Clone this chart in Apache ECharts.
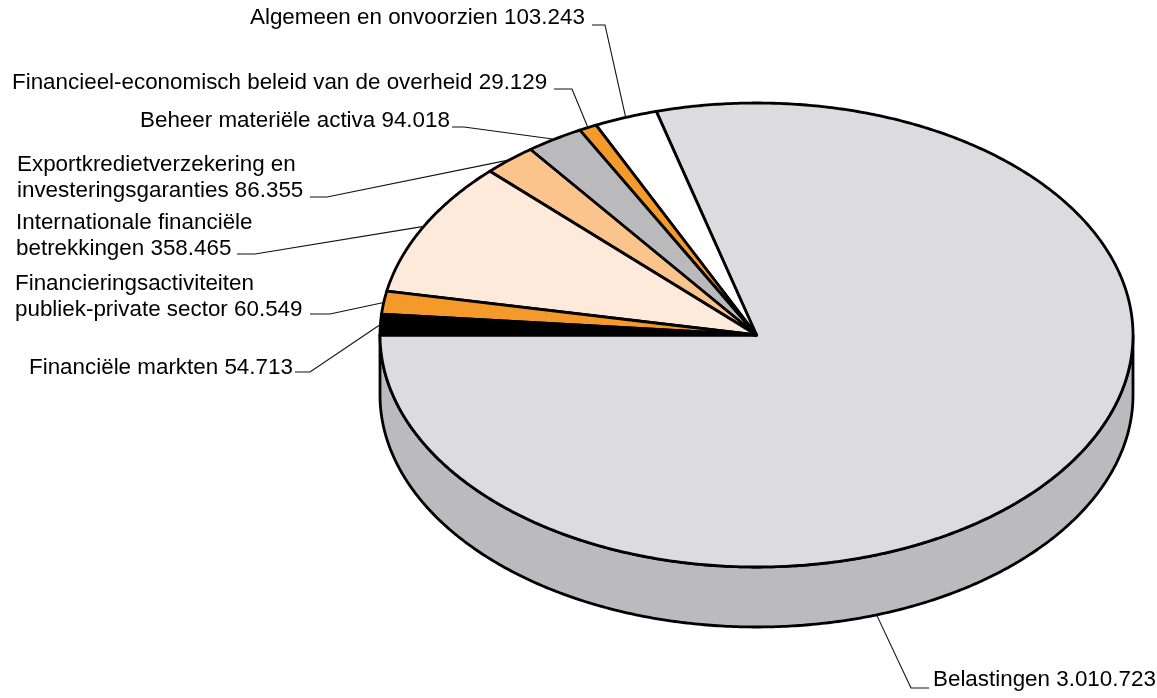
<!DOCTYPE html>
<html>
<head>
<meta charset="utf-8">
<script src="https://cdn.jsdelivr.net/npm/echarts@6/dist/echarts.min.js"></script>
<style>
  html, body { margin: 0; padding: 0; background: #fff; }
  #chart { width: 1157px; height: 698px; }
</style>
</head>
<body>
<div id="chart"></div>
<script>
// slices, in drawing order (starting at the left, going down and round)
const names = [
  "Belastingen",
  "Algemeen en onvoorzien",
  "Financieel-economisch beleid van de overheid",
  "Beheer materiële activa",
  "Exportkredietverzekering en\ninvesteringsgaranties",
  "Internationale financiële\nbetrekkingen",
  "Financieringsactiviteiten\npubliek-private sector",
  "Financiële markten"
];
const values = [3010723, 103243, 29129, 94018, 86355, 358465, 60549, 54713];

// styles
const topColors = ["#dcdcde", "#ffffff", "#f39a2b", "#bababc", "#fcc48d", "#feeadb", "#f39a2b", "#000000"];
const sideColors = ["#bbbbbd", "#d9d9d9", "#c97d20", "#9a9a9c", "#d9a470", "#dcc8b8", "#c97d20", "#000000"];

// label layout: text position, horizontal stub [x1, x2, y], optional anchor angle / side
const labelLayout = [
  { x: 933, y: 680, stub: [929, 911, 688], anchorDeg: 288.6, onBottom: true },
  { x: 250, y: 18, stub: [592, 605, 25] },
  { x: 12, y: 83, stub: [554, 572, 89] },
  { x: 140, y: 121, stub: [452, 464, 127] },
  { x: 17, y: 178, stub: [310, 327, 197] },
  { x: 16, y: 236, stub: [237, 255, 254] },
  { x: 15, y: 297, stub: [310, 330, 314] },
  { x: 29, y: 368, stub: [295, 310, 372] }
];

const cx = 756.5, cy = 335, rx = 376.5, ry = 232, depth = 60;
const startDeg = 180;

const total = values.reduce((a, b) => a + b, 0);
const angles = [];
let acc = startDeg;
values.forEach(v => {
  const span = v / total * 360;
  angles.push([acc, acc + span]);
  acc += span;
});

const fmt = v => String(v).replace(/\B(?=(\d{3})+(?!\d))/g, ".");
const rad = d => d * Math.PI / 180;
const pt = (deg, dy) => [cx + rx * Math.cos(rad(deg)), cy - ry * Math.sin(rad(deg)) + (dy || 0)];

function arc(a, b, dy) {
  const pts = [];
  const n = Math.max(2, Math.ceil(Math.abs(b - a) / 0.5));
  for (let i = 0; i <= n; i++) pts.push(pt(a + (b - a) * i / n, dy));
  return pts;
}

function renderItem(params, api) {
  const i = params.dataIndex;
  const [a, b] = angles[i];
  const children = [];

  // front wall: portions of the slice between 180 and 360 (mod 360)
  [[180, 360], [540, 720]].forEach(([lo, hi]) => {
    const s = Math.max(a, lo), e = Math.min(b, hi);
    if (e > s) {
      const top = arc(s, e, 0);
      const bottom = arc(e, s, depth);
      children.push({
        type: "polygon",
        shape: { points: top.concat(bottom) },
        style: { fill: sideColors[i], stroke: "#000", lineWidth: 2.8, lineJoin: "round" }
      });
    }
  });

  // top face
  children.push({
    type: "polygon",
    shape: { points: [[cx, cy]].concat(arc(a, b, 0)) },
    style: { fill: topColors[i], stroke: "#000", lineWidth: 2.8, lineJoin: "round" }
  });

  // label + leader line
  const lay = labelLayout[i];
  const anchor = lay.anchorDeg != null
    ? pt(lay.anchorDeg, lay.onBottom ? depth : 0)
    : pt((a + b) / 2, 0);
  children.push({
    type: "polyline",
    shape: { points: [[lay.stub[0], lay.stub[2]], [lay.stub[1], lay.stub[2]], anchor] },
    style: { stroke: "#111", lineWidth: 1.1, fill: null }
  });
  children.push({
    type: "text",
    x: lay.x,
    y: lay.y,
    style: {
      text: names[i] + " " + fmt(api.value(0)),
      fill: "#000",
      fontFamily: "Liberation Sans, Arial, sans-serif",
      fontSize: 22.4,
      lineHeight: 26,
      align: "left",
      verticalAlign: "middle"
    }
  });

  return { type: "group", children: children };
}

const chart = echarts.init(document.getElementById("chart"), null, { renderer: "canvas" });
chart.setOption({
  animation: false,
  series: [{
    type: "custom",
    coordinateSystem: "none",
    renderItem: renderItem,
    data: values.map(v => [v])
  }]
});
</script>
</body>
</html>
